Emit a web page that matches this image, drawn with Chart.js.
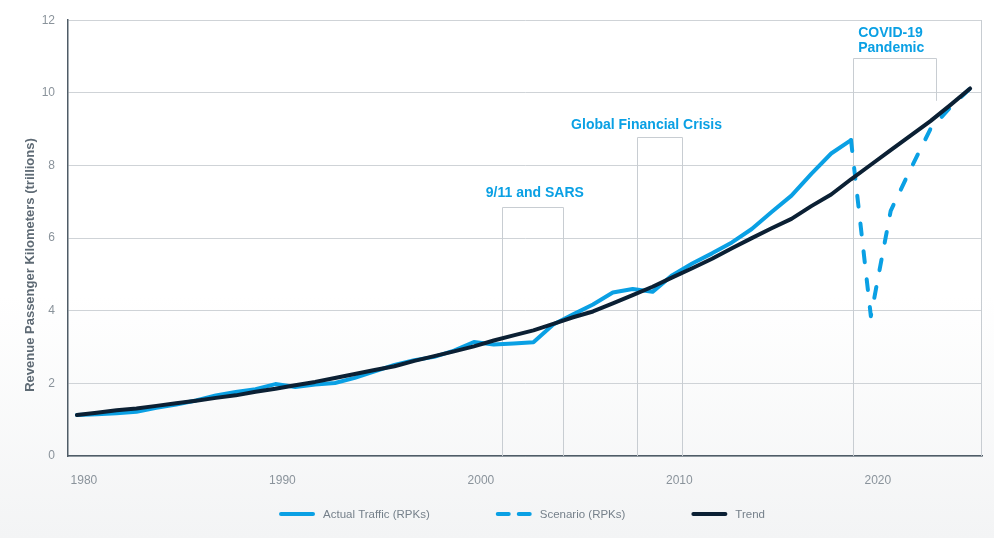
<!DOCTYPE html>
<html>
<head>
<meta charset="utf-8">
<script src="https://cdn.jsdelivr.net/npm/chart.js@4.4.1/dist/chart.umd.min.js"></script>
<style>
html,body{margin:0;padding:0;}
body{width:994px;height:538px;overflow:hidden;background:linear-gradient(to bottom,#ffffff 0%,#ffffff 55%,#f3f4f5 100%);}
#wrap{position:relative;width:994px;height:538px;}
</style>
</head>
<body>
<div id="wrap"><canvas id="traffic"></canvas></div>
<script>
// DATA
const years = [1980,1981,1982,1983,1984,1985,1986,1987,1988,1989,
               1990,1991,1992,1993,1994,1995,1996,1997,1998,1999,
               2000,2001,2002,2003,2004,2005,2006,2007,2008,2009,
               2010,2011,2012,2013,2014,2015,2016,2017,2018,2019,
               2020,2021,2022,2023,2024,2025];
const actual = [1.13,1.15,1.18,1.22,1.33,1.42,1.53,1.67,1.76,1.84,
                1.98,1.90,1.97,2.01,2.15,2.33,2.51,2.64,2.73,2.90,
                3.14,3.07,3.10,3.13,3.62,3.90,4.17,4.50,4.60,4.52,
                4.98,5.30,5.58,5.88,6.25,6.72,7.17,7.77,8.33,8.70];
const scenarioYears = [2019,2020,2021,2022,2023,2024,2025];
const scenario = [8.70,3.85,6.75,7.90,9.00,9.60,10.12];
const trend = [1.13,1.19,1.26,1.31,1.38,1.45,1.52,1.60,1.67,1.77,
               1.85,1.95,2.04,2.15,2.26,2.37,2.47,2.62,2.75,2.88,
               3.02,3.18,3.32,3.46,3.64,3.82,3.98,4.20,4.43,4.66,
               4.92,5.17,5.43,5.72,6.00,6.27,6.53,6.88,7.20,7.62,
               8.02,8.42,8.82,9.22,9.66,10.12];
const xTicks = [1980,1990,2000,2010,2020];

// events (years / values)
const eventLabels = [["9/11 and SARS"],["Global Financial Crisis"],["COVID-19","Pandemic"]];
const eventStart = [2001.4,2008.2,2019.1];
const eventEnd = [2004.5,2010.5,2023.3];
const eventTop = [6.87,8.79,10.96];
const eventEndBottom = [0,0,9.78];
const labelX = [2003.07,2008.7,2019.36];
const labelY = [7.23,9.12,11.65];
const labelAlign = ["center","center","left"];

const BLUE = "#0aa0e4";
const NAVY = "#0b2034";
const FONT = "'Liberation Sans', Arial, sans-serif";

const points = (xs, ys) => ys.map((v,i) => ({x: xs[i], y: v}));

/* =======================
   EVENT BOXES + FRAME
======================= */
const eventBoxes = {
  id: "eventBoxes",
  beforeDatasetsDraw(chart){
    const {ctx, chartArea, scales:{x, y}} = chart;
    ctx.save();
    ctx.strokeStyle = "#c8cdd2";
    ctx.lineWidth = 1;
    ctx.beginPath();
    ctx.moveTo(chartArea.right - 0.5, chartArea.top);
    ctx.lineTo(chartArea.right - 0.5, chartArea.bottom);
    ctx.stroke();
    for (let i = 0; i < eventLabels.length; i++){
      const x1 = Math.round(x.getPixelForValue(eventStart[i])) + 0.5;
      const x2 = Math.round(x.getPixelForValue(eventEnd[i])) + 0.5;
      const yt = Math.round(y.getPixelForValue(eventTop[i])) + 0.5;
      ctx.beginPath();
      ctx.moveTo(x1, y.getPixelForValue(0));
      ctx.lineTo(x1, yt);
      ctx.lineTo(x2, yt);
      ctx.lineTo(x2, y.getPixelForValue(eventEndBottom[i]));
      ctx.stroke();

      ctx.fillStyle = BLUE;
      ctx.font = "bold 14px " + FONT;
      ctx.textAlign = labelAlign[i];
      ctx.textBaseline = "middle";
      const lx = x.getPixelForValue(labelX[i]);
      const ly = y.getPixelForValue(labelY[i]);
      eventLabels[i].forEach((t, j) => ctx.fillText(t, lx, ly + j * 15));
    }
    ctx.restore();
  }
};

/* =======================
   Y TITLE + LEGEND
======================= */
const extras = {
  id: "extras",
  afterDraw(chart){
    const {ctx, chartArea} = chart;
    ctx.save();
    // y axis title
    ctx.translate(30, 265);
    ctx.rotate(-Math.PI / 2);
    ctx.fillStyle = "#5e6a74";
    ctx.font = "bold 13px " + FONT;
    ctx.textAlign = "center";
    ctx.textBaseline = "middle";
    ctx.fillText("Revenue Passenger Kilometers (trillions)", 0, 0);
    ctx.restore();

    // legend
    ctx.save();
    ctx.font = "11.5px " + FONT;
    const sets = chart.data.datasets;
    const sample = 36, gapText = 8, gapItem = 66;
    const widths = sets.map(d => sample + gapText + ctx.measureText(d.label).width);
    const total = widths.reduce((a, b) => a + b, 0) + gapItem * (sets.length - 1);
    let lx = (chartArea.left + chartArea.right) / 2 - total / 2 - 3;
    const ly = 514;
    sets.forEach((d, i) => {
      ctx.strokeStyle = d.borderColor;
      ctx.lineWidth = 4;
      ctx.lineCap = "round";
      ctx.setLineDash(d.borderDash ? [11, 10] : []);
      ctx.beginPath();
      ctx.moveTo(lx + 2, ly);
      ctx.lineTo(lx + sample - 2, ly);
      ctx.stroke();
      ctx.setLineDash([]);
      ctx.fillStyle = "#76818b";
      ctx.textAlign = "left";
      ctx.textBaseline = "middle";
      ctx.fillText(d.label, lx + sample + gapText, ly + 1);
      lx += widths[i] + gapItem;
    });
    ctx.restore();
  }
};

new Chart(document.getElementById("traffic"), {
  type: "line",
  data: {
    datasets: [{
      label: "Actual Traffic (RPKs)",
      data: points(years, actual),
      borderColor: BLUE,
      borderWidth: 4,
      borderJoinStyle: "round",
      borderCapStyle: "round",
      pointRadius: 0,
      tension: 0,
      order: 1
    },{
      label: "Scenario (RPKs)",
      data: points(scenarioYears, scenario),
      borderColor: BLUE,
      borderWidth: 4,
      borderDash: [11, 17],
      borderCapStyle: "round",
      borderJoinStyle: "round",
      pointRadius: 0,
      tension: 0,
      order: 2
    },{
      label: "Trend",
      data: points(years, trend),
      borderColor: NAVY,
      borderWidth: 4,
      borderJoinStyle: "round",
      borderCapStyle: "round",
      pointRadius: 0,
      tension: 0,
      order: 0
    }]
  },
  options: {
    responsive: true,
    maintainAspectRatio: false,
    animation: false,
    layout: { padding: { left: 20, top: 19, right: 12, bottom: 0 } },
    plugins: {
      legend: { display: false },
      tooltip: { enabled: false }
    },
    scales: {
      x: {
        type: "linear",
        min: 1979.55,
        max: 2025.6,
        afterBuildTicks: s => { s.ticks = xTicks.map(v => ({ value: v })); },
        afterFit: s => { s.height = 82; },
        grid: { display: false },
        border: { display: true, color: "#4f5c67", width: 1.5 },
        ticks: {
          callback: v => String(v),
          color: "#8a939b",
          font: { family: FONT, size: 12 },
          padding: 9,
          labelOffset: 7,
          maxRotation: 0,
          autoSkip: false
        }
      },
      y: {
        min: 0,
        max: 12,
        afterFit: s => { s.width = 48; },
        grid: { color: "#cfd3d7", drawTicks: false },
        border: { display: true, color: "#4f5c67", width: 1.5 },
        ticks: {
          stepSize: 2,
          color: "#8a939b",
          font: { family: FONT, size: 12 },
          padding: 13
        }
      }
    }
  },
  plugins: [eventBoxes, extras]
});
</script>
</body>
</html>
